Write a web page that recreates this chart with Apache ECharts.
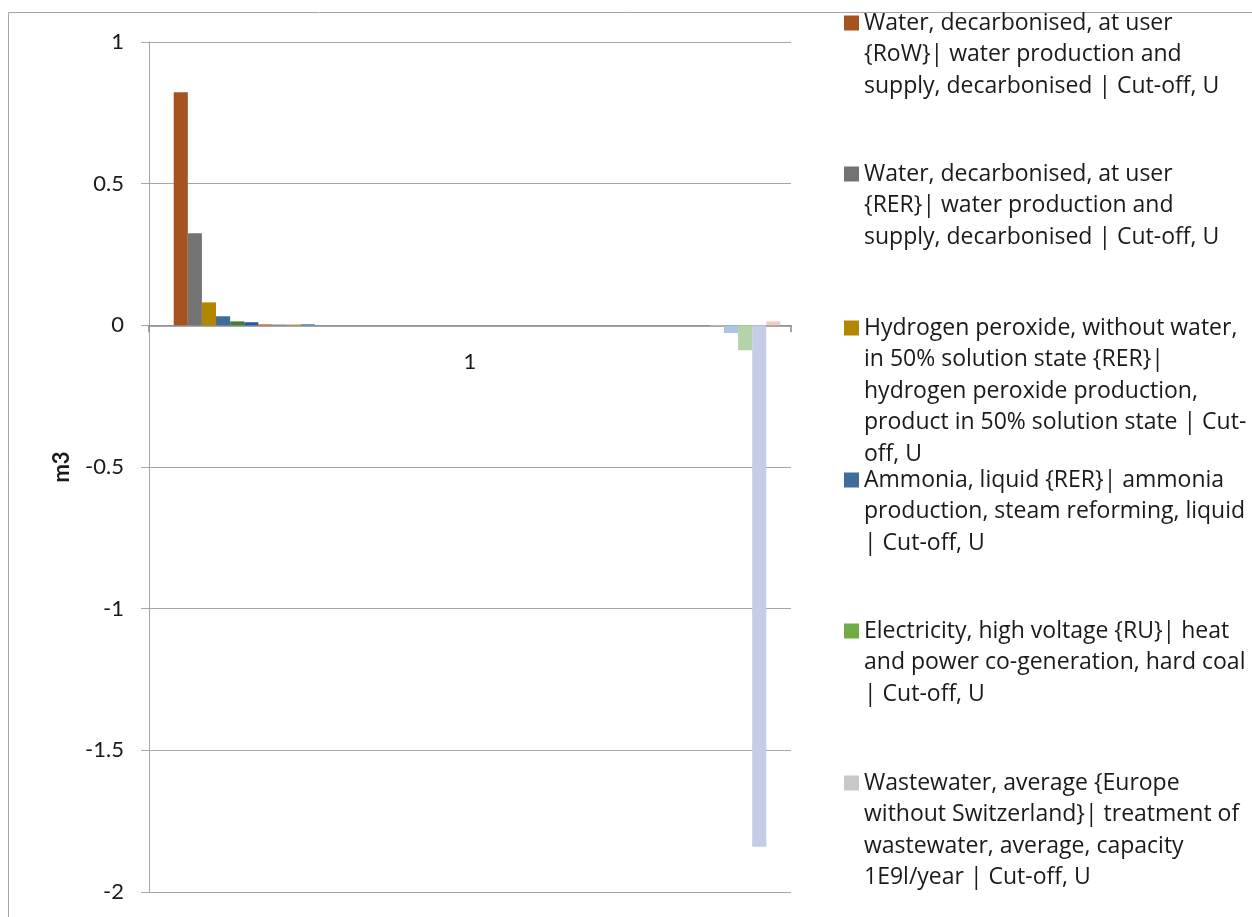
<!DOCTYPE html>
<html>
<head>
<meta charset="utf-8">
<script src="https://cdn.jsdelivr.net/npm/echarts@6/dist/echarts.min.js"></script>
<style>
  html, body { margin: 0; padding: 0; background: #ffffff; overflow: hidden; }
  #chart { width: 1252px; height: 917px; }
</style>
</head>
<body>
<div id="chart"></div>
<script>
// Single category, one bar per contributing process (m3 of water)
const categories = ['1'];

// Processes named in the legend
const waterRoW = 'Water, decarbonised, at user {RoW}| water production and supply, decarbonised | Cut-off, U';
const waterRER = 'Water, decarbonised, at user {RER}| water production and supply, decarbonised | Cut-off, U';
const hydrogenPeroxide = 'Hydrogen peroxide, without water, in 50% solution state {RER}| hydrogen peroxide production, product in 50% solution state | Cut-off, U';
const ammonia = 'Ammonia, liquid {RER}| ammonia production, steam reforming, liquid | Cut-off, U';
const electricityRU = 'Electricity, high voltage {RU}| heat and power co-generation, hard coal | Cut-off, U';
const wastewater = 'Wastewater, average {Europe without Switzerland}| treatment of wastewater, average, capacity 1E9l/year | Cut-off, U';

// Contribution of each process, in series order (m3)
const values = [
  0, 0.823, 0.325, 0.081, 0.032, 0.014, 0.011, 0.004, 0.003, 0.003, 0.004,
  0, 0, 0, 0, 0, 0, 0, 0, 0, 0, 0, 0, 0, 0,
  0, 0, 0, 0, 0, 0, 0, 0, 0, 0, 0, 0, 0, 0,
  -0.002, -0.027, -0.088, -1.84, 0.014
];

// Series colours, same order as the values
const seriesColors = [
  '#264478', '#A5531F', '#737373', '#B38600', '#3E6D9B', '#4B7C37', '#2F55A3',
  '#D9773A', '#8C8C8C', '#D4A21A', '#4E84C0',
  '#70AD47', '#C9C9C9', '#8FAADC', '#F4B183', '#FFD966', '#9DC3E6', '#A9D18E',
  '#203864', '#843C0C', '#525252', '#7F6000', '#1F4E79', '#385723',
  '#4472C4', '#ED7D31', '#A5A5A5', '#FFC000', '#5B9BD5', '#70AD47',
  '#264478', '#9E480E', '#636363', '#997300', '#255E91', '#43682B',
  '#698ED0', '#F1975A', '#B7B7B7',
  '#F4C99A', '#A9C4E5', '#B5D3A8', '#C5CCE6', '#F6CBBE'
];

// Series names: legend processes at their positions, the rest generic
const namedSeries = { 1: waterRoW, 2: waterRER, 3: hydrogenPeroxide, 4: ammonia, 11: electricityRU, 12: wastewater };
const seriesNames = values.map((v, i) => namedSeries[i] || ('Other process ' + (i + 1)));

// Legend entries and their wrapped labels
const legendNames = [waterRoW, waterRER, hydrogenPeroxide, ammonia, electricityRU, wastewater];
const legendLabels = [
  'Water, decarbonised, at user\n{RoW}| water production and\nsupply, decarbonised | Cut-off, U',
  'Water, decarbonised, at user\n{RER}| water production and\nsupply, decarbonised | Cut-off, U',
  'Hydrogen peroxide, without water,\nin 50% solution state {RER}|\nhydrogen peroxide production,\nproduct in 50% solution state | Cut-\noff, U',
  'Ammonia, liquid {RER}| ammonia\nproduction, steam reforming, liquid\n| Cut-off, U',
  'Electricity, high voltage {RU}| heat\nand power co-generation, hard coal\n| Cut-off, U',
  'Wastewater, average {Europe\nwithout Switzerland}| treatment of\nwastewater, average, capacity\n1E9l/year | Cut-off, U'
];

const AXIS_FONT = 'Lato, "Open Sans", sans-serif';
const LEGEND_FONT = '"Open Sans", Lato, sans-serif';
const LINE_H = 31.5;
const legendIconCenters = [22, 173, 327, 479, 630, 782];

// One legend block per entry so every entry keeps its own slot.
// Blank lines above the label keep the icon level with its first line.
const legends = legendNames.map((name, k) => {
  const n = legendLabels[k].split('\n').length;
  const blockH = (2 * n - 1) * LINE_H;
  return {
    data: [name],
    left: 844,
    top: legendIconCenters[k] - blockH / 2 + 1,
    padding: 0,
    itemWidth: 15,
    itemHeight: 15,
    icon: 'rect',
    selectedMode: false,
    formatter: () => '\n'.repeat(n - 1) + legendLabels[k],
    textStyle: { fontFamily: LEGEND_FONT, fontSize: 23, color: '#1a1a1a', lineHeight: LINE_H }
  };
});

const GRID_TOP = 42, GRID_BOTTOM = 25, Y_MIN = -2, Y_MAX = 1;
const plotH = 917 - GRID_TOP - GRID_BOTTOM;
// Category axis sits on the zero line
const zeroOffset = -plotH * (0 - Y_MIN) / (Y_MAX - Y_MIN);

const chart = echarts.init(document.getElementById('chart'), null, { renderer: 'canvas' });

chart.setOption({
  animation: false,
  backgroundColor: '#ffffff',
  legend: legends,
  grid: { left: 149, right: 461, top: GRID_TOP, bottom: GRID_BOTTOM, containLabel: false, outerBoundsMode: 'none' },
  xAxis: {
    type: 'category',
    data: categories,
    position: 'bottom',
    offset: zeroOffset,
    axisLine: { onZero: false, lineStyle: { color: '#8c8c8c', width: 1.5 } },
    axisTick: { show: true, length: 7, lineStyle: { color: '#8c8c8c', width: 1.5 } },
    axisLabel: { margin: 26, fontFamily: AXIS_FONT, fontSize: 22, color: '#1a1a1a' },
    splitLine: { show: false }
  },
  yAxis: {
    type: 'value',
    min: Y_MIN,
    max: Y_MAX,
    interval: 0.5,
    name: 'm3',
    nameLocation: 'middle',
    nameGap: 76,
    nameTextStyle: { fontFamily: AXIS_FONT, fontSize: 22, fontWeight: 'bold', color: '#1a1a1a' },
    axisLine: { show: true, lineStyle: { color: '#a6a6a6', width: 1 } },
    axisTick: { show: true, length: 8, lineStyle: { color: '#a6a6a6' } },
    axisLabel: { margin: 25, fontFamily: AXIS_FONT, fontSize: 22, color: '#1a1a1a' },
    splitLine: { show: true, lineStyle: { color: '#a6a6a6', width: 1 } }
  },
  graphic: [{
    type: 'rect',
    shape: { x: 8.5, y: 12.5, width: 1400, height: 1000 },
    style: { fill: null, stroke: '#a6a6a6', lineWidth: 1 },
    silent: true,
    z: -10
  }],
  series: values.map((v, i) => ({
    name: seriesNames[i],
    type: 'bar',
    data: [v],
    barGap: '0%',
    barCategoryGap: '3.3%',
    itemStyle: { color: seriesColors[i] },
    emphasis: { disabled: true }
  }))
});
</script>
</body>
</html>
